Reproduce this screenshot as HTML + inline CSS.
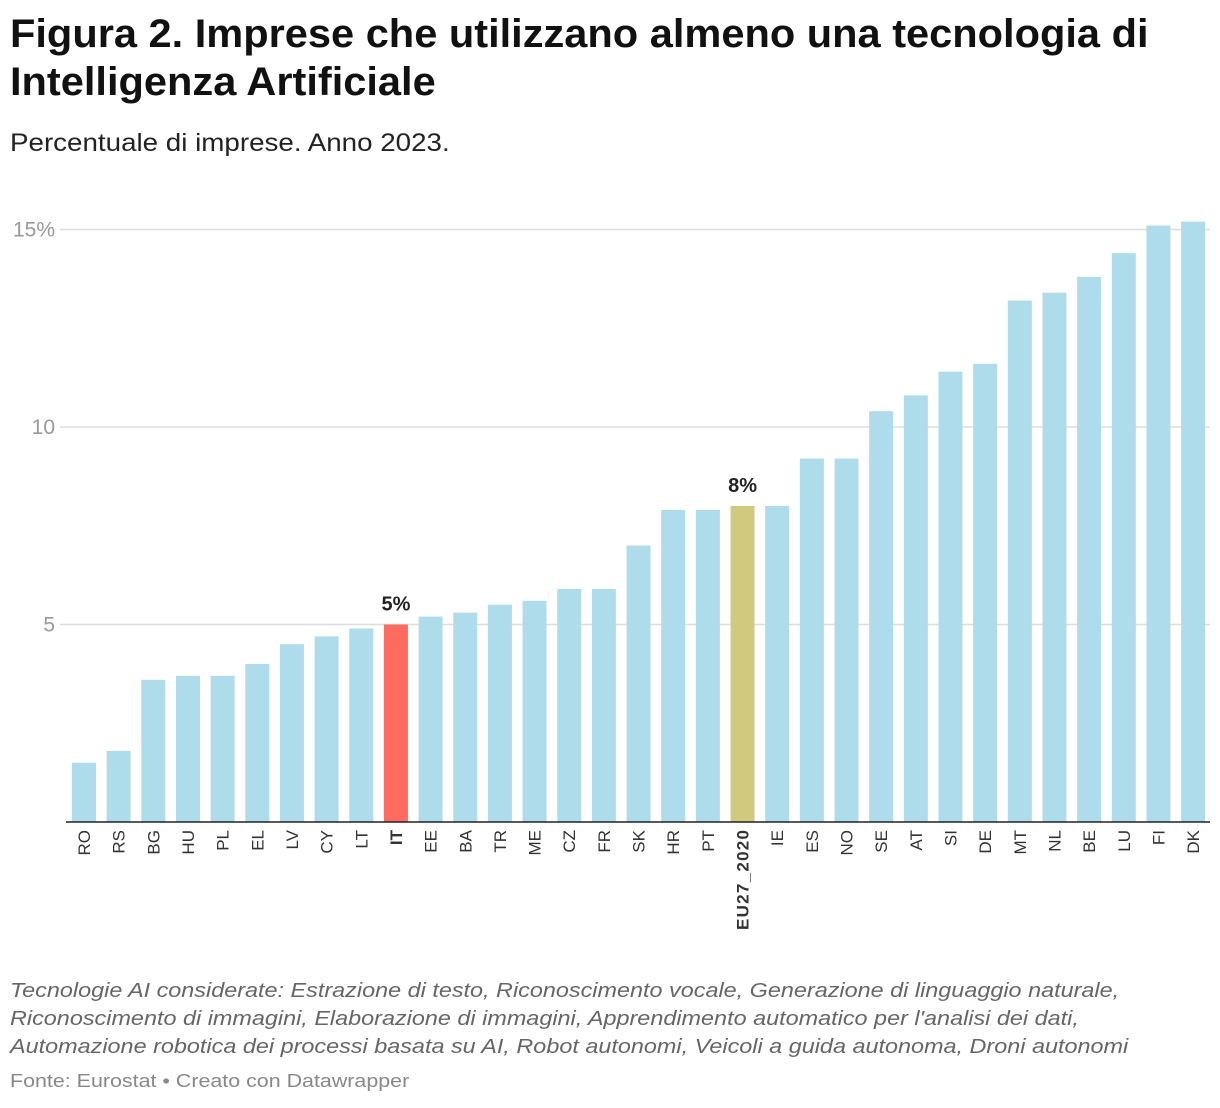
<!DOCTYPE html>
<html><head><meta charset="utf-8"><style>
body{margin:0;background:#fff;font-family:"Liberation Sans",sans-serif;}
#wrap{position:relative;width:1220px;height:1108px;overflow:hidden}
.s{position:absolute;left:10px;transform-origin:0 0;white-space:nowrap}
h1{margin:0;top:10px;font-size:40px;line-height:48px;font-weight:bold;color:#111;transform:scaleX(1.039)}
.sub{top:129px;font-size:25px;color:#222;transform:scaleX(1.11)}
.note{top:977px;font-size:20px;line-height:28px;font-style:italic;color:#666;transform:scaleX(1.17)}
.src{top:1071px;font-size:18px;color:#888;transform:scaleX(1.19)}
</style></head><body>
<div id="wrap">
<h1 class="s">Figura 2. Imprese che utilizzano almeno una tecnologia di<br>Intelligenza Artificiale</h1>
<div class="s sub">Percentuale di imprese. Anno 2023.</div>
<svg id="chart" width="1220" height="1108" style="position:absolute;left:0;top:0"></svg>
<div class="s note">Tecnologie AI considerate: Estrazione di testo, Riconoscimento vocale, Generazione di linguaggio naturale,<br>Riconoscimento di immagini, Elaborazione di immagini, Apprendimento automatico per l'analisi dei dati,<br>Automazione robotica dei processi basata su AI, Robot autonomi, Veicoli a guida autonoma, Droni autonomi</div>
<div class="s src">Fonte: Eurostat • Creato con Datawrapper</div>
</div>
<script>
const categories=["RO","RS","BG","HU","PL","EL","LV","CY","LT","IT","EE","BA","TR","ME","CZ","FR","SK","HR","PT","EU27_2020","IE","ES","NO","SE","AT","SI","DE","MT","NL","BE","LU","FI","DK"];
const values=[1.5,1.8,3.6,3.7,3.7,4.0,4.5,4.7,4.9,5.0,5.2,5.3,5.5,5.6,5.9,5.9,7.0,7.9,7.9,8.0,8.0,9.2,9.2,10.4,10.8,11.4,11.6,13.2,13.4,13.8,14.4,15.1,15.2];
const ticks=[5,10,15];
const tickLabels=["5","10","15%"];
const highlights={"IT":["#ff6b5e","5%"],"EU27_2020":["#d1c97e","8%"]};
const svg=document.getElementById('chart');const NS="http://www.w3.org/2000/svg";
const y=v=>822-v*39.5;const step=34.66;const x=i=>84+i*step;const bw=24;
function mk(t,a){const e=document.createElementNS(NS,t);for(const k in a)e.setAttribute(k,a[k]);svg.appendChild(e);return e;}
ticks.forEach((t,i)=>{
const g=mk('line',{x1:60,x2:1210,y1:y(t),y2:y(t),stroke:'#ddd','stroke-width':1.5});


const tx=mk('text',{x:55,y:y(t)+7,'text-anchor':'end','font-size':21,fill:'#999','font-family':'Liberation Sans, sans-serif'});
tx.textContent=tickLabels[i];


});
categories.forEach((c,i)=>{
const h=highlights[c];
const r=mk('rect',{x:x(i)-bw/2,y:y(values[i]),width:bw,height:822-y(values[i]),fill:h?h[0]:'#afdcea'});


const t=mk('text',{transform:`translate(${x(i)+6},830) rotate(-90)`,'text-anchor':'end','font-size':17,fill:'#333','font-weight':h?'bold':'normal','font-family':'Liberation Sans, sans-serif'});
if(c.length>5)t.setAttribute('textLength',100);
t.textContent=c;


if(h){const v=mk('text',{x:x(i),y:y(values[i])-14,'text-anchor':'middle','font-size':20,'font-weight':'bold',fill:'#222','font-family':'Liberation Sans, sans-serif'});
v.textContent=h[1];

}
});
const ax=mk('line',{x1:66,x2:1210,y1:822,y2:822,stroke:'#222','stroke-width':1.5});


</script>
</body></html>
